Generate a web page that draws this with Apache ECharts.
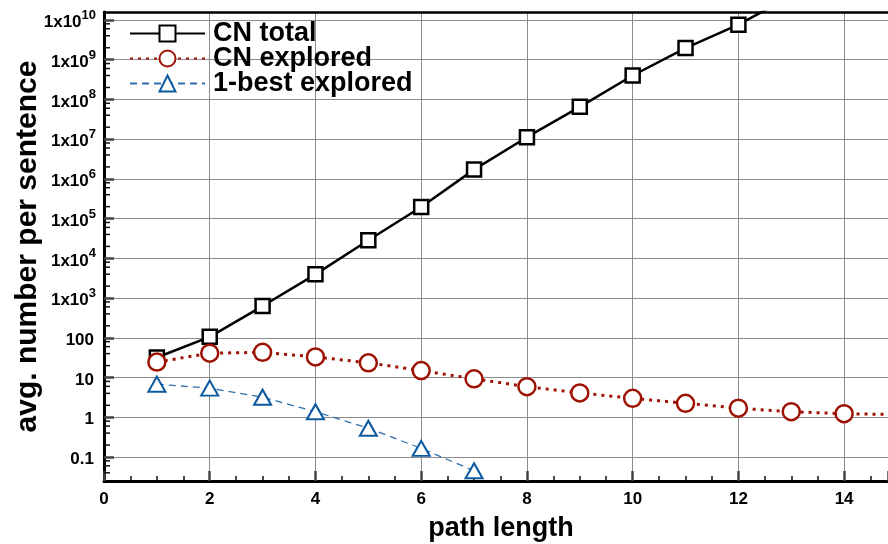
<!DOCTYPE html>
<html>
<head>
<meta charset="utf-8">
<script src="https://cdn.jsdelivr.net/npm/echarts@6/dist/echarts.min.js"></script>
<style>
  html, body { margin: 0; padding: 0; background: #fff; }
  #chart { width: 888px; height: 544px; }
</style>
</head>
<body>
<div id="chart"></div>
<script>
// Path lengths (x) for each series
const cnTotalX = [1, 2, 3, 4, 5, 6, 7, 8, 9, 10, 11, 12, 13];
const cnExploredX = [1, 2, 3, 4, 5, 6, 7, 8, 9, 10, 11, 12, 13, 14, 15];
const oneBestX = [1, 2, 3, 4, 5, 6, 7];

// Average number of paths per sentence
const cnTotal = [32, 106, 630, 3950, 28500, 196000, 1.71e6, 1.12e7, 6.5e7, 4.0e8, 1.96e9, 7.6e9, 4.0e10];
const cnExplored = [24.5, 41, 43, 33, 23.5, 15, 9.3, 5.9, 4.1, 3.0, 2.25, 1.69, 1.38, 1.23, 1.17];
const oneBestExplored = [6.8, 5.4, 3.2, 1.38, 0.53, 0.165, 0.045];

const seriesNames = ['CN total', 'CN explored', '1-best explored'];

// Axis ranges (y in real units, plotted on a base-10 logarithmic scale)
const xMin = 0, xMax = 14.83;
const yMin = 0.0249, yMax = 1.585e10;

// Log-spaced minor tick multipliers within each decade
const minorMultipliers = [2, 4, 6, 8];
const decades = [-2, -1, 0, 1, 2, 3, 4, 5, 6, 7, 8, 9, 10];

const FONT = '"Liberation Sans", Arial, Helvetica, sans-serif';

// The y axis works in decades: each value is placed at its base-10 exponent
const toLog = v => Math.log10(v);
const zipLog = (xs, ys) => xs.map((x, i) => [x, toLog(ys[i])]);

const minorTickValues = [];
decades.forEach(d => minorMultipliers.forEach(m => {
  const v = m * Math.pow(10, d);
  if (v > yMin && v < yMax) minorTickValues.push(v);
}));

const chart = echarts.init(document.getElementById('chart'), null, { renderer: 'canvas' });

const option = {
  backgroundColor: '#fff',
  animation: false,
  grid: { left: 104, right: 0, top: 12, bottom: 63, containLabel: false, outerBoundsMode: 'none' },
  legend: {
    data: seriesNames,
    orient: 'vertical',
    left: 124,
    top: 15,
    itemWidth: 75,
    itemHeight: 20,
    itemGap: -2,
    textStyle: { fontFamily: FONT, fontWeight: 'bold', fontSize: 27, lineHeight: 24, color: '#000', padding: [0, 0, 0, 3] }
  },
  xAxis: [{
    type: 'value',
    min: xMin, max: xMax, interval: 2,
    name: 'path length',
    nameLocation: 'middle',
    nameGap: 34,
    nameTextStyle: { fontFamily: FONT, fontWeight: 'bold', fontSize: 27, color: '#000', padding: [0, 0, 0, 10] },
    axisLine: { show: true, onZero: false, lineStyle: { color: '#000', width: 3 } },
    axisTick: { show: true, inside: true, length: 10, lineStyle: { color: '#444', width: 2.5 } },
    minorTick: { show: true, splitNumber: 4, length: 5, lineStyle: { color: '#111', width: 1.5 } },
    axisLabel: { fontFamily: FONT, fontWeight: 'bold', fontSize: 17, color: '#000', margin: 10, showMaxLabel: false },
    splitLine: { show: true, lineStyle: { color: '#8c8c8c', width: 1 } }
  }, {
    type: 'value', position: 'top',
    min: xMin, max: xMax, interval: 2,
    axisLine: { show: true, onZero: false, lineStyle: { color: '#000', width: 2.5 } },
    axisTick: { show: false }, axisLabel: { show: false }, splitLine: { show: false }
  }],
  yAxis: {
    type: 'value',
    min: toLog(yMin), max: toLog(yMax),
    splitNumber: 12,
    name: 'avg. number per sentence',
    nameLocation: 'middle',
    nameGap: 61,
    nameMoveOverlap: false,
    nameTextStyle: { fontFamily: FONT, fontWeight: 'bold', fontSize: 30, color: '#000' },
    axisLine: { show: true, onZero: false, lineStyle: { color: '#000', width: 3 } },
    axisTick: { show: true, inside: true, length: 10, lineStyle: { color: '#444', width: 2.5 } },
    minorTick: { show: false },
    splitLine: { show: true, lineStyle: { color: '#8c8c8c', width: 1 } },
    axisLabel: {
      margin: 8,
      showMinLabel: false,
      showMaxLabel: false,
      formatter: function (v) {
        const e = Math.round(v);
        if (e >= 3) return '{b|1x10}{s|' + e + '}';
        if (e >= 0) return '{n|' + Math.pow(10, e) + '}';
        return '{n|' + Math.pow(10, e).toFixed(-e) + '}';
      },
      rich: {
        b: { fontFamily: FONT, fontWeight: 'bold', fontSize: 17, color: '#000', lineHeight: 22, verticalAlign: 'bottom' },
        n: { fontFamily: FONT, fontWeight: 'bold', fontSize: 17, color: '#000', lineHeight: 22, verticalAlign: 'bottom', padding: [0, 2, 0, 0] },
        s: { fontFamily: FONT, fontWeight: 'bold', fontSize: 13, color: '#000', lineHeight: 12, verticalAlign: 'top' }
      }
    }
  },
  series: [
    {
      name: seriesNames[0],
      type: 'line',
      data: zipLog(cnTotalX, cnTotal),
      symbol: 'rect',
      symbolSize: 14,
      showAllSymbol: true,
      lineStyle: { color: '#000', width: 2.5, type: 'solid' },
      itemStyle: { color: '#fff', borderColor: '#000', borderWidth: 2.5 },
      z: 3
    },
    {
      name: seriesNames[1],
      type: 'line',
      data: zipLog(cnExploredX, cnExplored),
      symbol: 'circle',
      symbolSize: 17,
      showAllSymbol: true,
      lineStyle: { color: '#9e1204', width: 3, type: [3, 5] },
      itemStyle: { color: '#fff', borderColor: '#9e1204', borderWidth: 2.5 },
      z: 4
    },
    {
      name: seriesNames[2],
      type: 'line',
      data: zipLog(oneBestX, oneBestExplored),
      symbol: 'triangle',
      symbolSize: [17, 15],
      showAllSymbol: true,
      lineStyle: { color: '#2f6fad', width: 1.3, type: [7, 5] },
      itemStyle: { color: '#fff', borderColor: '#0d5aa0', borderWidth: 2 },
      z: 5
    },
    {
      // log-spaced minor ticks along the y axis
      type: 'custom',
      silent: true,
      clip: false,
      data: minorTickValues.map(v => [xMin, toLog(v)]),
      renderItem: function (params, api) {
        const p = api.coord([xMin, api.value(1)]);
        return {
          type: 'line',
          shape: { x1: p[0], y1: p[1], x2: p[0] + 6, y2: p[1] },
          style: { stroke: '#111', lineWidth: 1.5 }
        };
      },
      z: 6
    }
  ]
};

chart.setOption(option);
</script>
</body>
</html>
